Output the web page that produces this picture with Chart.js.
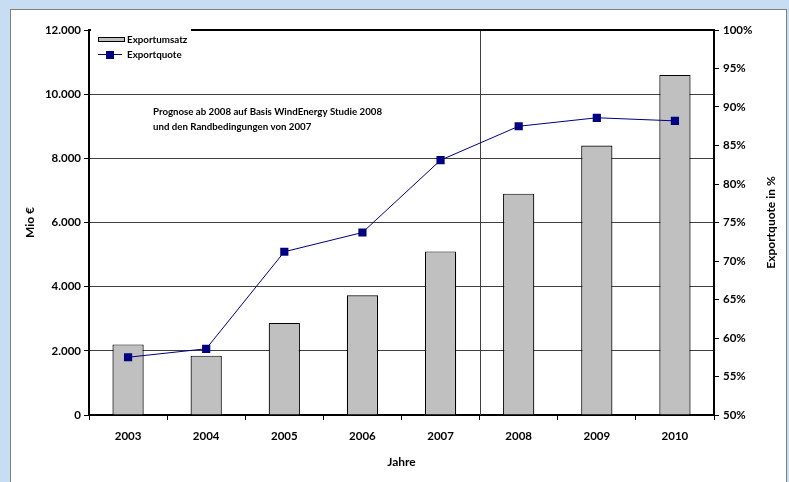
<!DOCTYPE html>
<html lang="de">
<head>
<meta charset="utf-8">
<title>Exportumsatz und Exportquote</title>
<script src="https://cdn.jsdelivr.net/npm/chart.js@4.4.1/dist/chart.umd.min.js"></script>
<style>
    body { margin: 0; background: #c6ddf2; }
    canvas { display: block; }
</style>
</head>
<body>
<canvas id="exportChart" width="789" height="482"></canvas>
<script>
// --- DATEN ---
const jahre = ["2003", "2004", "2005", "2006", "2007", "2008", "2009", "2010"];
const exportumsatz = [2200, 1850, 2870, 3730, 5100, 6900, 8400, 10600];   // Mio €
const exportquote = [57.5, 58.6, 71.2, 73.7, 83.1, 87.5, 88.6, 88.2];      // %
const umsatzTicks = [0, 2000, 4000, 6000, 8000, 10000, 12000];
const quoteTicks = [50, 55, 60, 65, 70, 75, 80, 85, 90, 95, 100];
const prognoseText = [
    "Prognose ab 2008 auf Basis WindEnergy Studie 2008",
    "und den Randbedingungen von 2007"
];
const prognoseAb = "2008";
const titelLinks = "Mio €";
const titelRechts = "Exportquote in %";
const titelUnten = "Jahre";

const FONT = "Lato";
const NAVY = "#000080";
const GRAU = "#c0c0c0";

function tausender(v) {
    return String(v).replace(/\B(?=(\d{3})+(?!\d))/g, ".");
}

// Hintergrund, Rahmen, Trennlinie, Text und Legende
const rahmenPlugin = {
    id: "rahmen",
    beforeDraw(chart) {
        const ctx = chart.ctx;
        ctx.save();
        ctx.fillStyle = "#c6ddf2";
        ctx.fillRect(0, 0, chart.width, chart.height);
        ctx.fillStyle = "#fff";
        ctx.fillRect(10, 9, 777, chart.height);
        ctx.strokeStyle = "#7f7f7f";
        ctx.lineWidth = 1;
        ctx.strokeRect(10.5, 9.5, 776, chart.height + 5);
        ctx.restore();
    },
    beforeDatasetsDraw(chart) {
        // senkrechte Linie zwischen Ist-Werten und Prognose
        const {ctx, chartArea, scales} = chart;
        const i = jahre.indexOf(prognoseAb);
        const x = Math.round((scales.x.getPixelForValue(i - 1) + scales.x.getPixelForValue(i)) / 2) + 0.5;
        ctx.save();
        ctx.strokeStyle = "#404040";
        ctx.lineWidth = 1;
        ctx.beginPath();
        ctx.moveTo(x, chartArea.top);
        ctx.lineTo(x, chartArea.bottom);
        ctx.stroke();
        ctx.restore();
    },
    afterDraw(chart) {
        const {ctx, chartArea} = chart;
        ctx.save();

        // obere Rahmenlinie
        ctx.strokeStyle = "#000";
        ctx.lineWidth = 2;
        ctx.beginPath();
        ctx.moveTo(chartArea.left, chartArea.top);
        ctx.lineTo(chartArea.right + 1, chartArea.top);
        ctx.stroke();

        // Legende
        ctx.fillStyle = "#fff";
        ctx.fillRect(chartArea.left + 2, chartArea.top - 4, 100, 38);
        const ds = chart.data.datasets;
        ctx.fillStyle = GRAU;
        ctx.fillRect(98, 37, 27, 5);
        ctx.strokeStyle = "#000";
        ctx.lineWidth = 1;
        ctx.strokeRect(98.5, 37.5, 26, 4);
        ctx.strokeStyle = NAVY;
        ctx.beginPath();
        ctx.moveTo(98, 54.5);
        ctx.lineTo(122, 54.5);
        ctx.stroke();
        ctx.fillStyle = NAVY;
        ctx.fillRect(106, 51, 8, 8);

        ctx.fillStyle = "#000";
        ctx.font = "bold 9.8px " + FONT;
        ctx.textBaseline = "middle";
        ctx.textAlign = "left";
        ctx.fillText(ds[1].label, 127, 40);
        ctx.fillText(ds[0].label, 127, 55);

        // Hinweis zur Prognose
        ctx.font = "bold 9.7px " + FONT;
        prognoseText.forEach((t, k) => ctx.fillText(t, 153, 112 + k * 15));

        // rechter Achsentitel, von unten nach oben
        ctx.font = "bold 12px " + FONT;
        ctx.textAlign = "center";
        ctx.translate(771, (chartArea.top + chartArea.bottom) / 2);
        ctx.rotate(-Math.PI / 2);
        ctx.fillText(titelRechts, 0, 0);
        ctx.restore();
    }
};

const ctx = document.getElementById("exportChart").getContext("2d");
Chart.defaults.font.family = FONT;
Chart.defaults.color = "#000";

new Chart(ctx, {
    type: "bar",
    data: {
        labels: jahre,
        datasets: [
            {
                type: "line",
                label: "Exportquote",
                data: exportquote,
                yAxisID: "y1",
                borderColor: NAVY,
                backgroundColor: NAVY,
                borderWidth: 1,
                pointStyle: "rect",
                pointRadius: 5.8,
                pointBorderWidth: 0,
                tension: 0,
                order: 0
            },
            {
                label: "Exportumsatz",
                data: exportumsatz,
                yAxisID: "y",
                backgroundColor: GRAU,
                borderColor: "#000",
                borderWidth: 1.2,
                barPercentage: 0.4,
                categoryPercentage: 1,
                order: 1
            }
        ]
    },
    options: {
        responsive: false,
        animation: false,
        layout: { padding: { top: 30, left: 10, right: 2, bottom: 0 } },
        plugins: {
            legend: { display: false },
            tooltip: { enabled: false }
        },
        scales: {
            x: {
                offset: true,
                grid: {
                    offset: true,
                    drawOnChartArea: false,
                    tickLength: 5,
                    tickColor: "#000"
                },
                border: { color: "#000", width: 2 },
                ticks: { font: { size: 11.5, weight: "bold" }, padding: 9 },
                title: {
                    display: true,
                    text: titelUnten,
                    font: { size: 12, weight: "bold" },
                    padding: { top: 0, bottom: 13 }
                },
                afterFit(scale) { scale.height = 67; }
            },
            y: {
                position: "left",
                min: umsatzTicks[0],
                max: umsatzTicks[umsatzTicks.length - 1],
                afterBuildTicks(scale) { scale.ticks = umsatzTicks.map(v => ({ value: v })); },
                grid: { color: "#404040", lineWidth: 1, tickLength: 5, tickColor: "#000" },
                border: { color: "#000", width: 2 },
                ticks: {
                    font: { size: 11.5, weight: "bold" },
                    padding: 3,
                    callback: v => tausender(v)
                },
                title: {
                    display: true,
                    text: titelLinks,
                    font: { size: 12, weight: "bold" },
                    padding: { top: 13, bottom: 0 }
                },
                afterFit(scale) { scale.width = 79; }
            },
            y1: {
                position: "right",
                min: quoteTicks[0],
                max: quoteTicks[quoteTicks.length - 1],
                afterBuildTicks(scale) { scale.ticks = quoteTicks.map(v => ({ value: v })); },
                grid: { drawOnChartArea: false, tickLength: 5, tickColor: "#000" },
                border: { color: "#000", width: 2 },
                ticks: {
                    font: { size: 11.5, weight: "bold" },
                    padding: 4,
                    callback: v => v + "%"
                },
                afterFit(scale) { scale.width = 73; }
            }
        }
    },
    plugins: [rahmenPlugin]
});
</script>
</body>
</html>
